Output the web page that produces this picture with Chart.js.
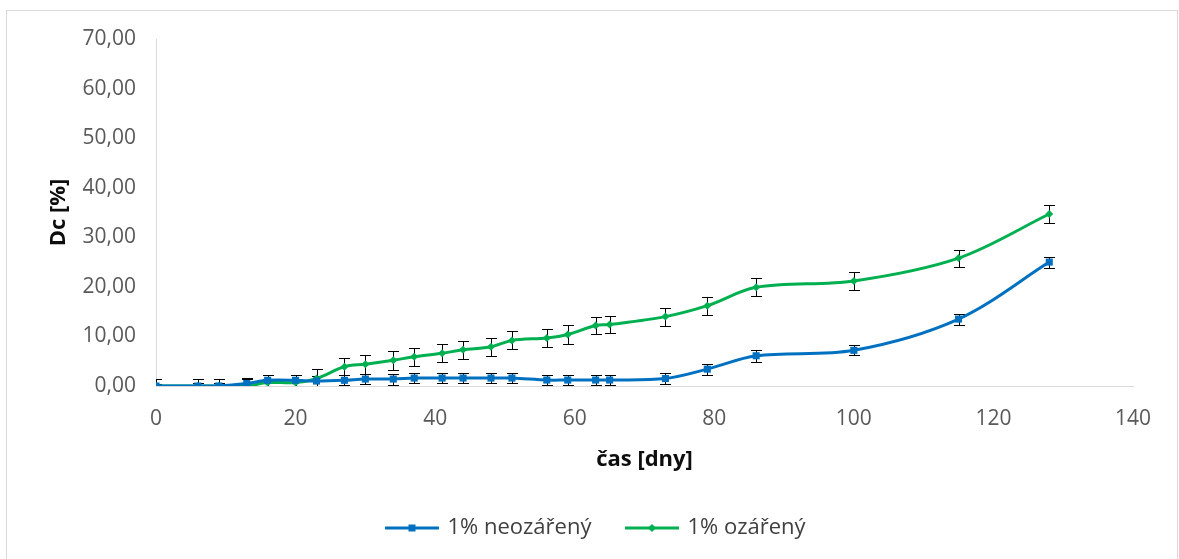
<!DOCTYPE html>
<html>
<head>
<meta charset="utf-8">
<script src="https://cdn.jsdelivr.net/npm/chart.js@4/dist/chart.umd.min.js"></script>
<style>
  html, body { margin: 0; padding: 0; background: #fff; }
  #wrap { width: 1179px; height: 559px; }
</style>
</head>
<body>
<div id="wrap"><canvas id="myChart"></canvas></div>
<script>
  // data
  let days = [0, 6, 9, 13, 16, 20, 23, 27, 30, 34, 37, 41, 44, 48, 51, 56, 59, 63, 65, 73, 79, 86, 100, 115, 128];
  let neozareny = [0, 0, 0, 0.5, 1.15, 1.15, 1.0, 1.15, 1.4, 1.4, 1.6, 1.6, 1.6, 1.6, 1.6, 1.2, 1.2, 1.2, 1.2, 1.5, 3.4, 6.1, 7.2, 13.5, 25.0];
  let neozarenyErr = [0.4, 0.6, 0.6, 1.0, 1.1, 1.1, 1.0, 1.0, 1.0, 1.1, 1.0, 1.0, 1.0, 1.0, 1.0, 1.0, 1.0, 1.0, 1.0, 1.1, 1.1, 1.2, 1.0, 1.1, 1.1];
  let ozareny = [0, 0, 0, 0, 0.7, 0.7, 1.5, 3.9, 4.4, 5.2, 5.9, 6.6, 7.3, 7.9, 9.2, 9.7, 10.4, 12.2, 12.4, 14.0, 16.2, 19.9, 21.2, 25.8, 34.7];
  let ozarenyErr = [1.5, 1.5, 1.5, 1.6, 0.8, 0.8, 2.0, 1.7, 1.9, 1.9, 1.8, 1.8, 1.8, 1.8, 1.8, 1.85, 1.85, 1.8, 1.8, 1.8, 1.85, 1.8, 1.8, 1.7, 1.8];
  let seriesNames = ['1% neozářený', '1% ozářený'];
  let colors = ['#0070C0', '#00B050'];

  Chart.defaults.font.family = "'Open Sans', sans-serif";

  const toPoints = (vals) => days.map((d, i) => ({ x: d, y: vals[i] }));

  // little line+marker picture for the legend
  const legendIcon = (color, style) => {
    const c = document.createElement('canvas');
    c.width = 54; c.height = 12;
    const g = c.getContext('2d');
    g.strokeStyle = color; g.lineWidth = 3;
    g.beginPath(); g.moveTo(0, 6); g.lineTo(54, 6); g.stroke();
    g.fillStyle = color;
    if (style === 'rect') {
      g.fillRect(23.5, 2.5, 7, 7);
    } else {
      g.beginPath(); g.moveTo(27, 2); g.lineTo(31, 6); g.lineTo(27, 10); g.lineTo(23, 6); g.closePath(); g.fill();
    }
    return c;
  };
  const icons = [legendIcon(colors[0], 'rect'), legendIcon(colors[1], 'diamond')];

  const frame = {
    id: 'frame',
    beforeDraw(chart) {
      const ctx = chart.ctx;
      ctx.save();
      ctx.fillStyle = '#fff';
      ctx.fillRect(0, 0, chart.width, chart.height);
      ctx.strokeStyle = '#d9d9d9';
      ctx.lineWidth = 1;
      ctx.strokeRect(6.5, 10.5, 1171, 600);
      ctx.restore();
    }
  };

  const errorBars = {
    id: 'errorBars',
    beforeDatasetsDraw(chart) {
      const { ctx, chartArea, scales: { x, y } } = chart;
      ctx.save();
      ctx.beginPath();
      ctx.rect(chartArea.left, chartArea.top, chartArea.right - chartArea.left, chartArea.bottom - chartArea.top);
      ctx.clip();
      ctx.strokeStyle = '#000';
      ctx.lineWidth = 1;
      chart.data.datasets.forEach(ds => {
        ds.data.forEach((p, i) => {
          const e = ds.errorBars[i];
          const px = Math.round(x.getPixelForValue(p.x)) + 0.5;
          const top = Math.round(y.getPixelForValue(p.y + e)) + 0.5;
          const bot = Math.round(y.getPixelForValue(p.y - e)) + 0.5;
          ctx.beginPath();
          ctx.moveTo(px, top); ctx.lineTo(px, bot);
          ctx.moveTo(px - 5.5, top); ctx.lineTo(px + 5.5, top);
          ctx.moveTo(px - 5.5, bot); ctx.lineTo(px + 5.5, bot);
          ctx.stroke();
        });
      });
      ctx.restore();
    }
  };

  let chart = new Chart(document.getElementById('myChart'), {
    type: 'line',
    data: {
      datasets: [{
        label: seriesNames[0],
        data: toPoints(neozareny),
        errorBars: neozarenyErr,
        borderColor: colors[0],
        backgroundColor: colors[0],
        borderWidth: 3,
        pointStyle: 'rect',
        pointRadius: 5,
        pointBorderWidth: 0,
        tension: 0.33
      }, {
        label: seriesNames[1],
        data: toPoints(ozareny),
        errorBars: ozarenyErr,
        borderColor: colors[1],
        backgroundColor: colors[1],
        borderWidth: 3,
        pointStyle: 'rectRot',
        pointRadius: 4,
        pointBorderWidth: 0,
        tension: 0.33
      }]
    },
    options: {
      responsive: true,
      maintainAspectRatio: false,
      animation: false,
      layout: { padding: { left: 14, right: 0, top: 39, bottom: 10 } },
      scales: {
        x: {
          type: 'linear',
          min: 0,
          max: 140,
          grid: { drawOnChartArea: false, drawTicks: false },
          border: { color: '#d9d9d9', width: 1 },
          ticks: { stepSize: 20, padding: 20, color: '#595959', font: { size: 21 }, maxRotation: 0, autoSkip: false },
          title: { display: true, text: 'čas [dny]', color: '#0d0d0d', font: { size: 22, weight: 'bold' }, padding: { top: 0, bottom: 8 } },
          afterFit: (scale) => { scale.height = 95; scale.paddingRight = 46; }
        },
        y: {
          min: 0,
          max: 70,
          grid: { drawOnChartArea: false, drawTicks: false },
          border: { color: '#d9d9d9', width: 1 },
          ticks: {
            stepSize: 10, padding: 20, color: '#595959', font: { size: 21 },
            callback: (v) => v.toFixed(2).replace('.', ',')
          },
          title: { display: true, text: 'Dc [%]', color: '#0d0d0d', font: { size: 22, weight: 'bold' }, padding: { top: 32, bottom: 0 } },
          afterFit: (scale) => { scale.width = 142; }
        }
      },
      plugins: {
        legend: {
          position: 'bottom',
          labels: {
            usePointStyle: true,
            pointStyleWidth: 49,
            padding: 36,
            color: '#404040',
            font: { size: 22 },
            generateLabels: (ch) => {
              const items = Chart.defaults.plugins.legend.labels.generateLabels(ch);
              items.forEach((it, i) => { it.pointStyle = icons[i]; });
              return items;
            }
          }
        },
        tooltip: { enabled: false }
      }
    },
    plugins: [frame, errorBars]
  });
</script>
</body>
</html>
